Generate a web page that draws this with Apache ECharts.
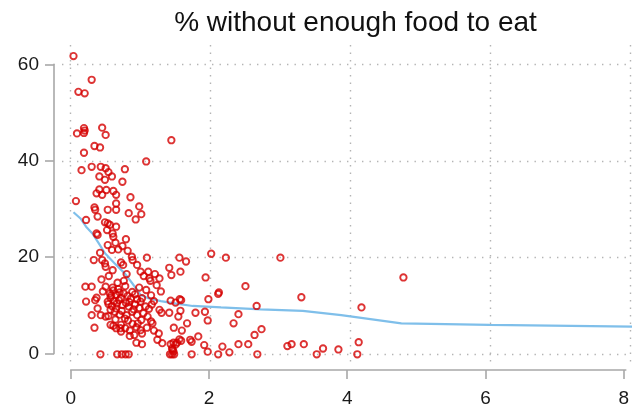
<!DOCTYPE html>
<html>
<head>
<meta charset="utf-8">
<script src="https://cdn.jsdelivr.net/npm/echarts@6/dist/echarts.min.js"></script>
<style>
  html, body { margin: 0; padding: 0; background: #fff; }
  #chart { width: 632px; height: 408px; }
</style>
</head>
<body>
<div id="chart"></div>
<script>
// Per-area observations: horizontal value and % without enough food to eat
const foodX = [
  0.04, 0.30, 0.11, 0.20, 0.09, 0.19, 0.20, 0.19, 0.45, 0.50, 1.44, 0.34, 0.42, 0.19, 1.08, 0.155,
  0.30, 0.43, 0.50, 0.54, 0.59, 0.41, 0.49, 0.775, 0.74, 0.41, 0.51, 0.61, 0.37, 0.45, 0.65, 0.855,
  0.075, 0.65, 0.98, 0.34, 0.35, 0.53, 0.65, 0.93, 1.01, 0.83, 0.385, 0.22, 0.49, 0.53, 0.56, 0.65,
  0.37, 0.385, 0.52, 0.60, 0.61, 0.79, 0.64, 0.53, 0.74, 0.68, 0.59, 0.815, 0.42, 0.875, 0.33, 0.45,
  1.09, 1.555, 1.65, 2.01, 2.22, 3.00, 0.49, 0.72, 0.75, 0.885, 0.95, 0.50, 1.41, 0.60, 0.80, 1.00,
  1.11, 1.57, 1.44, 1.045, 1.205, 1.125, 1.14, 1.27, 1.93, 4.76, 0.44, 0.545, 0.67, 0.78, 0.21, 0.30,
  0.50, 1.23, 1.08, 2.50, 0.61, 0.46, 1.29, 0.92, 0.76, 0.815, 0.56, 0.57, 0.65, 0.72, 0.37, 0.35,
  2.11, 2.12, 3.30, 0.95, 1.00, 1.19, 1.43, 1.56, 1.58, 1.97, 0.22, 0.53, 0.54, 0.69, 0.79, 0.83,
  1.16, 1.50, 2.66, 4.16, 0.385, 0.59, 0.65, 0.73, 0.90, 1.07, 1.12, 1.27, 1.30, 1.41, 1.57, 1.785,
  1.92, 2.40, 0.30, 0.43, 0.50, 0.54, 0.80, 0.95, 1.54, 0.64, 0.775, 1.01, 1.15, 1.96, 1.665, 2.33,
  0.57, 0.61, 0.72, 0.885, 0.96, 1.17, 0.34, 0.65, 0.71, 0.78, 0.94, 1.09, 1.475, 2.73, 0.72, 0.845,
  1.00, 1.19, 1.59, 1.26, 0.845, 0.91, 1.02, 1.825, 2.63, 1.24, 1.555, 1.58, 1.71, 1.73, 1.31, 0.94,
  1.02, 1.43, 1.47, 1.50, 1.52, 1.91, 2.17, 2.40, 2.54, 3.10, 3.16, 3.335, 4.12, 3.61, 3.83, 1.96,
  2.27, 1.45, 1.46, 1.47, 0.425, 0.665, 0.73, 0.785, 0.83, 1.42, 1.45, 1.48, 1.73, 2.11, 2.67, 3.52,
  4.10, 0.58, 0.62, 0.66, 0.70, 0.74, 0.60, 0.68, 0.86, 0.88, 0.84, 0.63, 0.70, 0.57, 0.92, 0.98,
  1.04, 1.10, 0.82, 0.88, 0.76, 0.98, 1.15, 1.02
];
const foodY = [
  61.7, 56.8, 54.3, 54.0, 45.7, 46.8, 46.3, 45.8, 46.9, 45.4, 44.3, 43.1, 42.8, 41.7, 39.9, 38.1,
  38.8, 38.8, 38.5, 37.7, 36.8, 36.8, 36.1, 38.3, 35.7, 34.1, 34.0, 33.8, 33.3, 33.0, 33.0, 32.5,
  31.7, 31.2, 30.6, 30.4, 29.9, 29.9, 29.9, 27.9, 29.0, 29.2, 28.5, 27.8, 27.3, 27.1, 26.8, 26.4,
  25.0, 24.7, 25.7, 25.0, 24.3, 23.8, 23.1, 22.6, 22.4, 21.7, 21.6, 21.4, 21.0, 20.2, 19.5, 19.5,
  20.0, 20.0, 19.2, 20.8, 20.0, 20.0, 18.8, 19.0, 18.5, 19.5, 18.5, 18.1, 17.9, 17.4, 16.6, 17.1,
  17.1, 17.1, 16.4, 16.2, 16.6, 15.7, 15.2, 15.7, 15.9, 15.9, 15.5, 16.2, 14.8, 14.1, 14.0, 14.0,
  14.0, 14.3, 13.3, 14.1, 13.2, 13.0, 13.0, 12.4, 12.6, 12.1, 12.6, 11.7, 12.3, 11.7, 11.7, 11.2,
  12.5, 12.8, 11.8, 11.4, 10.9, 11.0, 11.1, 11.4, 11.2, 11.4, 10.9, 10.9, 10.4, 11.2, 10.6, 9.9,
  10.3, 10.7, 10.0, 9.7, 9.5, 10.0, 9.5, 9.0, 9.3, 9.9, 9.4, 9.2, 8.6, 8.6, 9.0, 8.6,
  8.8, 8.3, 8.1, 8.1, 7.8, 7.9, 8.1, 8.1, 7.8, 7.2, 7.4, 7.1, 6.8, 7.0, 6.4, 6.4,
  6.1, 5.9, 6.1, 6.3, 6.4, 6.4, 5.5, 5.4, 5.4, 5.4, 5.6, 5.5, 5.5, 5.2, 4.7, 4.9,
  5.0, 4.9, 4.9, 4.3, 3.8, 4.0, 4.3, 3.7, 4.0, 3.0, 3.1, 2.8, 3.0, 2.6, 2.3, 2.4,
  2.1, 2.1, 2.4, 2.0, 2.4, 1.9, 1.6, 2.1, 2.1, 1.7, 2.1, 2.1, 2.5, 1.2, 1.0, 0.55,
  0.4, 1.2, 0.9, 0.55, 0, 0, 0, 0, 0, 0, 0, 0, 0, 0, 0, 0,
  0, 12.2, 11.0, 10.5, 12.8, 10.2, 13.8, 13.5, 11.5, 12.9, 10.8, 8.8, 8.2, 9.2, 10.3, 9.6,
  8.5, 7.8, 7.0, 8.8, 15.2, 13.8, 12.2, 11.6
];

// Smoothed trend through the points
const trendX = [0.04, 0.14, 0.22, 0.31, 0.40, 0.49, 0.63, 0.77, 0.88, 1.00, 1.11, 1.29, 1.46, 1.745, 2.15, 2.72, 3.32, 3.87, 4.73, 5.99, 8.10];
const trendY = [29.4, 28.1, 26.4, 25.0, 23.0, 20.9, 18.8, 16.8, 14.7, 12.3, 11.6, 11.0, 10.6, 10.0, 9.7, 9.3, 9.0, 8.1, 6.4, 6.1, 5.7];

// Axis tick values
const xTicks = [0, 2, 4, 6, 8];
const yTicks = [0, 20, 40, 60];

// Pixel layout: where value 0 sits and how many pixels one unit spans
const X0_PX = 70.7, X_UNIT = 69.9;
const Y0_PX = 354.3, Y_UNIT = 4.833;
const W = 632, H = 408;
const PLOT = { left: 62, top: 45, right: 632, bottom: 364 };

const xFromPx = px => (px - X0_PX) / X_UNIT;
const yFromPx = py => (Y0_PX - py) / Y_UNIT;

const FONT = '"Liberation Sans", Arial, sans-serif';
const AXIS_GREY = '#a8a8a8';
const gridDots = { color: '#b4b4b4', width: 1.4, type: [1.4, 6.1] };

const scatterData = foodX.map((x, i) => [x, foodY[i]]);
const trendData = trendX.map((x, i) => [x, trendY[i]]);

const chart = echarts.init(document.getElementById('chart'), null, { renderer: 'canvas' });

chart.setOption({
  animation: false,
  backgroundColor: '#ffffff',
  title: {
    text: '% without enough food to eat',
    left: 350.5,
    top: 4,
    textAlign: 'center',
    textStyle: { fontFamily: FONT, fontSize: 28, fontWeight: 'normal', color: '#111' }
  },
  grid: [
    // plotting region with the dotted reference lines
    {
      left: PLOT.left, top: PLOT.top,
      width: PLOT.right - PLOT.left, height: PLOT.bottom - PLOT.top,
      containLabel: false
    },
    // region spanning exactly the labelled ranges, carrying the detached axes
    {
      left: X0_PX, top: Y0_PX - 60 * Y_UNIT,
      width: W - X0_PX, height: 60 * Y_UNIT,
      containLabel: false
    }
  ],
  xAxis: [
    {
      type: 'value', gridIndex: 0,
      min: xFromPx(PLOT.left), max: xFromPx(PLOT.right),
      axisLine: { show: false },
      axisLabel: { show: false },
      axisTick: { show: false, customValues: xTicks },
      splitLine: { show: true, lineStyle: gridDots }
    },
    {
      type: 'value', gridIndex: 1,
      min: 0, max: xFromPx(W),
      offset: 16.4,
      axisLine: { show: true, onZero: false, lineStyle: { color: AXIS_GREY, width: 1.6 } },
      axisTick: { show: true, length: 9, customValues: xTicks, lineStyle: { color: AXIS_GREY, width: 1.6 } },
      axisLabel: { show: true, customValues: xTicks, margin: 19, fontSize: 19, color: '#1a1a1a', fontFamily: FONT },
      splitLine: { show: false }
    }
  ],
  yAxis: [
    {
      type: 'value', gridIndex: 0,
      min: yFromPx(PLOT.bottom), max: yFromPx(PLOT.top),
      axisLine: { show: false },
      axisLabel: { show: false },
      axisTick: { show: false, customValues: yTicks },
      splitLine: { show: true, lineStyle: gridDots }
    },
    {
      type: 'value', gridIndex: 1,
      min: 0, max: 60, interval: 20,
      offset: 16.7,
      axisLine: { show: true, onZero: false, lineStyle: { color: AXIS_GREY, width: 1.6 } },
      axisTick: { show: true, length: 9, lineStyle: { color: AXIS_GREY, width: 1.6 } },
      axisLabel: { show: true, margin: 15, fontSize: 19, color: '#1a1a1a', fontFamily: FONT },
      splitLine: { show: false }
    }
  ],
  series: [
    {
      type: 'line',
      xAxisIndex: 0, yAxisIndex: 0,
      data: trendData,
      showSymbol: false,
      smooth: false,
      clip: true,
      lineStyle: { color: '#7fbfea', width: 2.2 },
      z: 3
    },
    {
      type: 'scatter',
      xAxisIndex: 0, yAxisIndex: 0,
      data: scatterData,
      symbol: 'circle',
      symbolSize: 6.4,
      itemStyle: { color: 'rgba(255,255,255,0)', borderColor: '#d40000', borderWidth: 1.9 },
      z: 4
    }
  ]
});
</script>
</body>
</html>
